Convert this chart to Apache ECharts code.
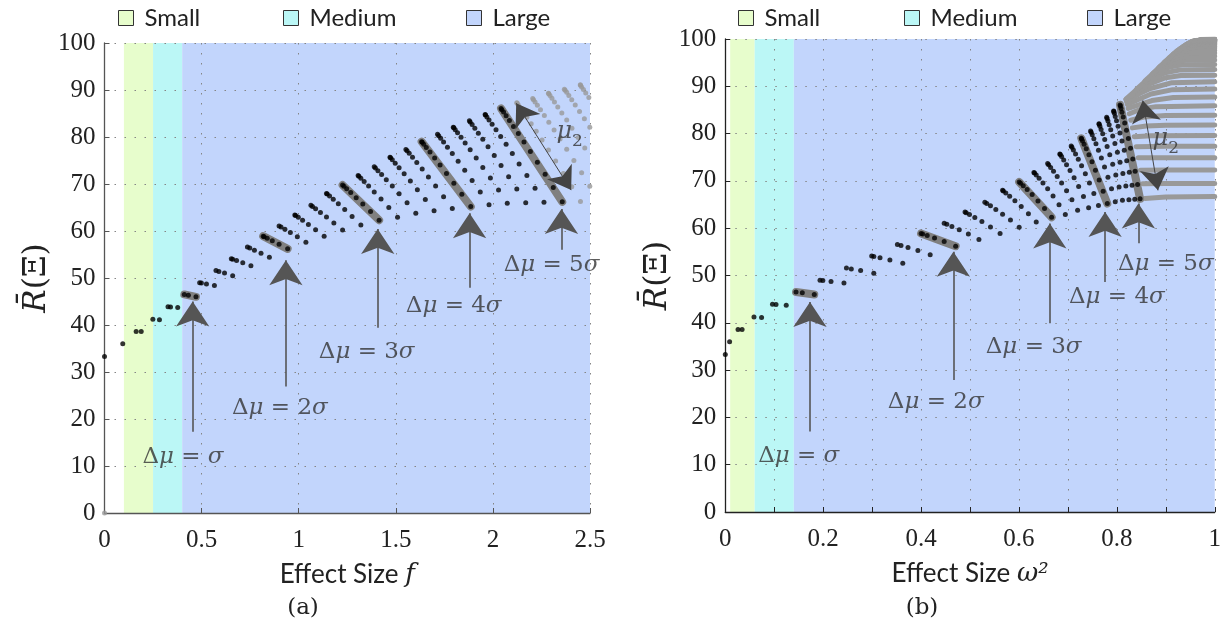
<!DOCTYPE html>
<html><head><meta charset="utf-8">
<script src="https://cdn.jsdelivr.net/npm/echarts@6/dist/echarts.min.js"></script>
<style>html,body{margin:0;padding:0;background:#fff}#c{width:1224px;height:630px}</style>
</head><body><div id="c"></div>
<script>
// ---------- Panel (a): effect size f vs R(Xi) ----------
const aBlack = [
 [0,33.3],[0.094,36.0],[0.189,38.6],[0.163,38.6],[0.283,41.1],[0.249,41.2],
 [0.377,43.7],[0.340,43.85],[0.327,43.9],
 [0.471,46.0],[0.432,46.35],[0.411,46.5],
 [0.566,48.4],[0.525,48.73],[0.499,48.93],[0.490,49.0],
 [0.660,50.5],[0.618,51.04],[0.589,51.4],[0.574,51.58],
 [0.754,52.6],[0.712,53.26],[0.680,53.73],[0.660,54.01],[0.653,54.1],
 [0.849,54.4],[0.806,55.27],[0.772,55.92],[0.748,56.36],[0.736,56.57],
 [0.943,56.2],[0.899,57.17],[0.864,57.93],[0.838,58.47],[0.822,58.79],[0.817,58.9],
 [1.037,57.6],[0.993,58.76],[0.957,59.68],[0.929,60.38],[0.909,60.84],[0.899,61.07],
 [1.131,58.9],[1.087,60.28],[1.050,61.4],[1.020,62.28],[0.998,62.9],[0.984,63.28],[0.980,63.4],
 [1.226,60.2],[1.181,61.71],[1.143,62.96],[1.112,63.96],[1.087,64.72],[1.071,65.22],[1.063,65.47],
 [1.320,61.3],[1.275,63.08],[1.237,64.58],[1.204,65.81],[1.178,66.77],[1.159,67.45],[1.147,67.86],[1.143,68.0],
 [1.414,62.3],[1.370,64.17],[1.330,65.77],[1.296,67.1],[1.268,68.17],[1.247,68.97],[1.233,69.5],[1.226,69.77],
 [1.509,62.9],[1.464,64.98],[1.424,66.79],[1.389,68.32],[1.360,69.58],[1.337,70.55],[1.320,71.24],[1.310,71.66],[1.306,71.8],
 [1.603,63.8],[1.558,65.99],[1.517,67.91],[1.482,69.55],[1.451,70.93],[1.427,72.02],[1.408,72.84],[1.395,73.39],[1.389,73.67],
 [1.697,64.3],[1.652,66.69],[1.611,68.8],[1.575,70.64],[1.543,72.18],[1.517,73.44],[1.497,74.43],[1.482,75.14],[1.473,75.56],[1.470,75.7],
 [1.791,64.8],[1.746,67.31],[1.705,69.55],[1.668,71.5],[1.636,73.18],[1.608,74.57],[1.586,75.69],[1.569,76.53],[1.558,77.09],[1.552,77.36],
 [1.886,65.2],[1.840,67.82],[1.799,70.17],[1.761,72.24],[1.728,74.03],[1.700,75.55],[1.676,76.79],[1.657,77.76],[1.644,78.45],[1.636,78.86],[1.633,79.0],
 [1.980,65.6],[1.935,68.32],[1.893,70.77],[1.855,72.95],[1.821,74.85],[1.791,76.48],[1.766,77.84],[1.746,78.93],[1.731,79.75],[1.721,80.29],[1.715,80.57],
 [2.074,65.9],[2.029,68.71],[1.987,71.26],[1.948,73.53],[1.914,75.54],[1.883,77.28],[1.857,78.75],[1.836,79.96],[1.818,80.89],[1.806,81.56],[1.799,81.97],[1.796,82.1],
 [2.169,66.0],[2.123,68.91],[2.081,71.56],[2.042,73.94],[2.007,76.06],[1.975,77.91],[1.948,79.5],[1.925,80.82],[1.907,81.88],[1.893,82.67],[1.883,83.2],[1.879,83.47],
 [2.263,66.1],[2.217,69.09],[2.175,71.81],[2.135,74.28],[2.100,76.49],[2.068,78.44],[2.040,80.13],[2.016,81.55],[1.996,82.72],[1.980,83.63],[1.969,84.28],[1.962,84.67],[1.960,84.8],
 [2.357,66.2],[2.311,69.26],[2.269,72.06],[2.229,74.61],[2.193,76.9],[2.160,78.94],[2.131,80.72],[2.106,82.25],[2.085,83.52],[2.068,84.54],[2.055,85.3],[2.046,85.81],[2.042,86.07]
];
const aGray = [
 [0,0],
 [2.451,66.3],[2.406,69.41],[2.363,72.26],[2.323,74.87],[2.286,77.24],[2.253,79.34],[2.223,81.21],[2.197,82.83],[2.175,84.19],[2.156,85.31],[2.142,86.18],[2.131,86.8],[2.125,87.18],[2.123,87.3],
 [2.499,69.51],[2.457,72.38],[2.417,75.01],[2.380,77.4],[2.346,79.56],[2.315,81.47],[2.288,83.15],[2.265,84.58],[2.245,85.78],[2.229,86.74],[2.217,87.45],[2.209,87.93],[2.205,88.17],
 [2.473,77.67],[2.439,79.88],[2.407,81.86],[2.380,83.6],[2.355,85.11],[2.334,86.39],[2.317,87.44],[2.304,88.25],[2.294,88.83],[2.288,89.18],[2.286,89.3],
 [2.499,82.06],[2.471,83.86],[2.446,85.44],[2.424,86.79],[2.406,87.92],[2.391,88.82],[2.380,89.5],[2.372,89.95],[2.368,90.17],
 [2.494,88.38],[2.478,89.36],[2.466,90.12],[2.457,90.66],[2.451,91.0],[2.450,91.1]
];
const aBands = [
 [[0.411,46.5],[0.471,46.0]],[[0.817,58.9],[0.943,56.2]],[[1.226,69.77],[1.414,62.3]],
 [[1.633,79.0],[1.886,65.2]],[[2.042,86.07],[2.357,66.2]]
];
const aArrows = [
 [[0.454,17.3],[0.454,45.0]],[[0.934,26.9],[0.934,53.8]],[[1.407,39.4],[1.407,60.4]],
 [[1.880,47.9],[1.880,63.8]],[[2.353,56.0],[2.353,64.7]]
];
const aMu2 = [[2.120,87.2],[2.403,68.7]];
const aLabelPos = [[0.404,11.9],[0.903,22.3],[1.350,34.3],[1.798,44.0],[2.302,52.8]];
const aMu2Pos = [2.395,80.4];

// ---------- Panel (b): effect size omega^2 vs R(Xi) ----------
const bBlack = [
 [0,33.3],[0.0088,36.0],[0.0343,38.6],[0.0260,38.6],[0.0741,41.1],[0.0586,41.2],
 [0.1245,43.7],[0.1036,43.85],[0.0964,43.9],
 [0.1818,46.0],[0.1573,46.35],[0.1445,46.5],
 [0.2424,48.4],[0.2160,48.73],[0.1993,48.93],[0.1935,49.0],
 [0.3034,50.5],[0.2765,51.04],[0.2574,51.4],[0.2475,51.58],
 [0.3626,52.6],[0.3363,53.26],[0.3161,53.73],[0.3034,54.01],[0.2991,54.1],
 [0.4186,54.4],[0.3935,55.27],[0.3733,55.92],[0.3590,56.36],[0.3516,56.57],
 [0.4706,56.2],[0.4472,57.17],[0.4275,57.93],[0.4125,58.47],[0.4032,58.79],[0.4000,58.9],
 [0.5182,57.6],[0.4966,58.76],[0.4780,59.68],[0.4630,60.38],[0.4526,60.84],[0.4472,61.07],
 [0.5614,58.9],[0.5418,60.28],[0.5243,61.4],[0.5098,62.28],[0.4989,62.9],[0.4921,63.28],[0.4898,63.4],
 [0.6004,60.2],[0.5826,61.71],[0.5665,62.96],[0.5527,63.96],[0.5418,64.72],[0.5342,65.22],[0.5303,65.47],
 [0.6353,61.3],[0.6193,63.08],[0.6046,64.58],[0.5917,65.81],[0.5810,66.77],[0.5731,67.45],[0.5681,67.86],[0.5665,68.0],
 [0.6667,62.3],[0.6522,64.17],[0.6388,65.77],[0.6269,67.1],[0.6167,68.17],[0.6087,68.97],[0.6032,69.5],[0.6004,69.77],
 [0.6947,62.9],[0.6818,64.98],[0.6696,66.79],[0.6586,68.32],[0.6490,69.58],[0.6411,70.55],[0.6353,71.24],[0.6318,71.66],[0.6305,71.8],
 [0.7198,63.8],[0.7082,65.99],[0.6972,67.91],[0.6871,69.55],[0.6781,70.93],[0.6706,72.02],[0.6647,72.84],[0.6606,73.39],[0.6586,73.67],
 [0.7423,64.3],[0.7318,66.69],[0.7219,68.8],[0.7126,70.64],[0.7043,72.18],[0.6972,73.44],[0.6914,74.43],[0.6871,75.14],[0.6844,75.56],[0.6835,75.7],
 [0.7624,64.8],[0.7530,67.31],[0.7440,69.55],[0.7356,71.5],[0.7279,73.18],[0.7212,74.57],[0.7156,75.69],[0.7112,76.53],[0.7082,77.09],[0.7067,77.36],
 [0.7805,65.2],[0.7720,67.82],[0.7639,70.17],[0.7562,72.24],[0.7492,74.03],[0.7429,75.55],[0.7375,76.79],[0.7331,77.76],[0.7299,78.45],[0.7279,78.86],[0.7273,79.0],
 [0.7967,65.6],[0.7891,68.32],[0.7818,70.77],[0.7748,72.95],[0.7683,74.85],[0.7624,76.48],[0.7573,77.84],[0.7530,78.93],[0.7497,79.75],[0.7475,80.29],[0.7463,80.57],
 [0.8114,65.9],[0.8045,68.71],[0.7978,71.26],[0.7915,73.53],[0.7855,75.54],[0.7801,77.28],[0.7752,78.75],[0.7711,79.96],[0.7678,80.89],[0.7654,81.56],[0.7639,81.97],[0.7634,82.1],
 [0.8246,66.0],[0.8184,68.91],[0.8123,71.56],[0.8065,73.94],[0.8011,76.06],[0.7960,77.91],[0.7915,79.5],[0.7875,80.82],[0.7843,81.88],[0.7818,82.67],[0.7801,83.2],[0.7792,83.47],
 [0.8366,66.1],[0.8310,69.09],[0.8254,71.81],[0.8201,74.28],[0.8151,76.49],[0.8104,78.44],[0.8062,80.13],[0.8025,81.55],[0.7993,82.72],[0.7967,83.63],[0.7949,84.28],[0.7938,84.67],[0.7934,84.8],
 [0.8475,66.2],[0.8423,69.26],[0.8373,72.06],[0.8325,74.61],[0.8279,76.9],[0.8235,78.94],[0.8196,80.72],[0.8160,82.25],[0.8130,83.52],[0.8104,84.54],[0.8085,85.3],[0.8072,85.81],[0.8065,86.07]
];
// gray streaks (one row per distance of mu2 from mu1), beyond the 5-sigma diagonal
const bRows = [
 [[0.8573,66.3],[0.90,66.6],[1,66.7]],
 [[0.8527,69.41],[0.90,69.43],[1,69.45]],
 [[0.8481,72.26],[0.90,72.28],[1,72.3]],
 [[0.8436,74.87],[0.90,74.9],[1,74.9]],
 [[0.8394,77.24],[0.90,77.3],[1,77.3]],
 [[0.8354,79.34],[0.87,79.55],[1,79.6]],
 [[0.8317,81.21],[0.86,81.6],[0.90,81.75],[1,81.8]],
 [[0.8284,82.83],[0.855,83.5],[0.90,83.85],[1,83.9]],
 [[0.8254,84.19],[0.85,85.2],[0.88,85.7],[1,85.9]],
 [[0.8230,85.31],[0.8715,86.98],[0.9154,87.64],[1,87.73]],
 [[0.8210,86.18],[0.8697,88.36],[0.9141,89.29],[1,89.42]],
 [[0.8196,86.8],[0.8464,88.46],[0.8682,89.53],[0.9129,90.76],[1,90.95]],
 [[0.8187,87.18],[0.8452,89.17],[0.8669,90.5],[0.8996,91.81],[0.9308,92.3],[1,92.33]],
 [[0.8184,87.3],[0.8445,89.64],[0.8660,91.23],[0.8986,92.86],[0.9300,93.47],[1,93.55]],
 [[0.8394,89.3],[0.8614,91.36],[0.8797,92.72],[0.9078,94.07],[0.9354,94.58],[1,94.61]],
 [[0.8571,91.1],[0.8759,92.88],[0.8916,94.03],[0.9159,95.14],[0.9402,95.52],[1,95.55]],
 [[0.8722,92.6],[0.8882,94.15],[0.9018,95.12],[0.9230,96.03],[0.9456,96.33],[1,96.35]],
 [[0.8851,93.9],[0.8989,95.23],[0.9107,96.05],[0.9292,96.79],[0.9494,97.0],[1,97.03]],
 [[0.8963,95.0],[0.9082,96.14],[0.9184,96.83],[0.9348,97.42],[0.9527,97.6],[1,97.61]],
 [[0.9059,95.9],[0.9163,96.89],[0.9253,97.46],[0.9397,97.95],[0.9558,98.08],[1,98.09]],
 [[0.9143,96.7],[0.9234,97.53],[0.9313,97.99],[0.9441,98.38],[1,98.48]],
 [[0.9216,97.3],[0.9297,98.01],[0.9366,98.4],[0.9480,98.72],[1,98.81]],
 [[0.9281,97.8],[0.9352,98.4],[0.9414,98.73],[0.9516,98.99],[1,99.07]],
 [[0.9338,98.2],[0.9401,98.71],[0.9456,99.0],[0.9548,99.22],[1,99.29]],
 [[0.9389,98.6],[0.9445,99.0],[0.9494,99.22],[0.9577,99.4],[1,99.45]],
 [[0.9434,98.9],[0.9484,99.22],[0.9529,99.4],[0.9604,99.55],[1,99.59]],
 [[0.9474,99.1],[0.9528,99.45],[1,99.69]],
 [[0.9511,99.3],[0.9559,99.6],[1,99.77]],
 [[0.9544,99.45],[1,99.83]],
 [[0.9573,99.6],[1,99.87]],
 [[0.9600,99.7],[1,99.9]],
 [[0.9700,99.9],[1,100]]
];
const bBands = [
 [[0.1445,46.5],[0.1818,46.0]],[[0.4000,58.9],[0.4706,56.2]],[[0.6004,69.77],[0.6667,62.3]],
 [[0.7273,79.0],[0.7805,65.2]],[[0.8065,86.07],[0.8475,66.2]]
];
const bArrows = [
 [[0.173,17.0],[0.173,44.4]],[[0.466,27.9],[0.466,55.0]],[[0.663,39.9],[0.663,61.0]],
 [[0.776,48.6],[0.776,63.4]],[[0.844,56.8],[0.844,65.2]]
];
const bMu2 = [[0.853,87.0],[0.884,68.0]];
const bLabelPos = [[0.150,11.8],[0.430,23.2],[0.630,34.9],[0.800,45.4],[0.900,52.4]];
const bMu2Pos = [0.900,78.2];

// shared text
const sigmaMult = ['', '2', '3', '4', '5'];
const sizeClasses = ['Small', 'Medium', 'Large'];
const classColors = ['#e7fdcc', '#bbf7f6', '#c2d5fc'];
const aBounds = [0.1, 0.25, 0.4, 2.5];
const bBounds = [0.01, 0.06, 0.14, 1.0];

// ---------- build ----------
const SERIF = '"DejaVu Serif", serif';
const TICKFONT = '"Liberation Serif", serif';
const chart = echarts.init(document.getElementById('c'), null, {renderer: 'canvas'});

function mathRich() {
  return {
    n: {fontFamily: SERIF, fontSize: 23, color: '#333'},
    i: {fontFamily: SERIF, fontSize: 23, color: '#333', fontStyle: 'italic'},
    m: {fontFamily: SERIF, fontSize: 24, color: '#333', fontStyle: 'italic', lineHeight: 30, verticalAlign: 'top'},
    s: {fontFamily: SERIF, fontSize: 17, color: '#333', lineHeight: 17, verticalAlign: 'bottom'}
  };
}
function dlabel(m) { return '{n|Δ}{i|μ}{n| = ' + m + '}{i|σ}'; }

function axisPair(g, xmax, xint, xfmt, xname, axisColor) {
  const common = {
    gridIndex: g, type: 'value', z: 2,
    axisLine: {show: true, onZero: false, lineStyle: {color: axisColor, width: 1.3}},
    axisTick: {show: true, inside: true, length: 5, lineStyle: {color: axisColor}},
    splitLine: {show: true, lineStyle: {color: '#858585', type: [1.5, 8.5], width: 1}}
  };
  const x = Object.assign({}, common, {
    min: 0, max: xmax, interval: xint,
    axisLabel: {fontFamily: TICKFONT, fontSize: 25, color: '#222', margin: 15, formatter: xfmt},
    name: xname, nameLocation: 'middle', nameGap: 49,
    nameTextStyle: {rich: {
      s: {fontFamily: 'Lato', fontSize: 26, color: '#222'},
      m: {fontFamily: SERIF, fontSize: 26, color: '#222', fontStyle: 'italic'}
    }}
  });
  const y = Object.assign({}, common, {
    min: 0, max: 100, interval: 10,
    axisLabel: {fontFamily: TICKFONT, fontSize: 25, color: '#222', margin: 9},
    name: '{r|R\u0304}{p|(Ξ)}', nameLocation: 'middle', nameGap: 52, nameRotate: 90,
    nameTextStyle: {rich: {
      r: {fontFamily: SERIF, fontSize: 31, color: '#222', fontStyle: 'italic'},
      p: {fontFamily: SERIF, fontSize: 31, color: '#222'}
    }}
  });
  return [x, y];
}

const [ax, ay] = axisPair(0, 2.5, 0.5, null, '{s|Effect Size }{m|f}', '#555');
const [bx, by] = axisPair(1, 1, 0.1, function (v) {
  const k = Math.round(v * 10);
  return k % 2 === 0 ? String(+(v.toFixed(1))) : '';
}, '{s|Effect Size }{m|ω²}', '#222');

const series = [];
function panel(g, bounds, black, gray, bands, arrows, mu2, labelPos, mu2Pos, rows) {
  sizeClasses.forEach(function (name, k) {
    series.push({
      name: name, type: 'line', xAxisIndex: g, yAxisIndex: g, z: 0,
      data: [], color: classColors[k], itemStyle: {color: classColors[k]},
      markArea: {silent: true, z: 0, itemStyle: {color: classColors[k], opacity: 1},
        data: [[{xAxis: bounds[k]}, {xAxis: bounds[k + 1]}]]}
    });
  });
  if (rows) {
    series.push({type: 'lines', coordinateSystem: 'cartesian2d', xAxisIndex: g, yAxisIndex: g,
      polyline: true, z: 3, silent: true,
      lineStyle: {color: '#999999', width: 5, opacity: 1, cap: 'round', join: 'round'},
      data: rows.map(function (r) { return {coords: r}; })});
  }
  series.push({type: 'lines', coordinateSystem: 'cartesian2d', xAxisIndex: g, yAxisIndex: g,
    z: 3, silent: true,
    lineStyle: {color: '#808080', width: 8, opacity: 1, cap: 'round'},
    data: bands.map(function (c) { return {coords: c}; })});
  if (gray) {
    series.push({type: 'scatter', xAxisIndex: g, yAxisIndex: g, z: 4, symbolSize: 5,
      itemStyle: {color: '#999999'}, data: gray, silent: true});
  }
  series.push({type: 'scatter', xAxisIndex: g, yAxisIndex: g, z: 5, symbolSize: 5,
    itemStyle: {color: '#000'}, data: black, silent: true});
  series.push({type: 'lines', coordinateSystem: 'cartesian2d', xAxisIndex: g, yAxisIndex: g,
    z: 6, silent: true, symbol: ['none', 'arrow'], symbolSize: 25,
    lineStyle: {color: '#555', width: 1.6, opacity: 1},
    data: arrows.map(function (c) { return {coords: c}; })});
  series.push({type: 'lines', coordinateSystem: 'cartesian2d', xAxisIndex: g, yAxisIndex: g,
    z: 6, silent: true, symbol: ['arrow', 'arrow'], symbolSize: 22,
    lineStyle: {color: '#444', width: 1, opacity: 1},
    data: [{coords: mu2}]});
  const labs = labelPos.map(function (p, k) {
    return {value: p, label: {formatter: dlabel(sigmaMult[k])}};
  });
  labs.push({value: mu2Pos, label: {formatter: '{m|μ}{s|2}'}});
  series.push({type: 'scatter', xAxisIndex: g, yAxisIndex: g, z: 7, symbolSize: 1, silent: true,
    itemStyle: {color: 'transparent'},
    label: {show: true, position: 'inside', rich: mathRich()},
    data: labs});
}
panel(0, aBounds, aBlack, aGray, aBands, aArrows, aMu2, aLabelPos, aMu2Pos, null);
panel(1, bBounds, bBlack, null, bBands, bArrows, bMu2, bLabelPos, bMu2Pos, bRows);

const legendLefts = [[113, 278, 461], [733, 899, 1082]];
const legends = [];
legendLefts.forEach(function (row) {
  row.forEach(function (lx, k) {
    legends.push({data: [sizeClasses[k]], left: lx, top: 1, icon: 'rect',
      itemWidth: 15, itemHeight: 15, selectedMode: false,
      itemStyle: {borderColor: '#333', borderWidth: 1},
      textStyle: {fontFamily: 'Lato', fontSize: 24, color: '#222', padding: [0, 0, 0, 6]}});
  });
});

chart.setOption({
  animation: false,
  grid: [
    {left: 104.5, top: 43, width: 485.5, height: 470},
    {left: 725.3, top: 39, width: 489.7, height: 473}
  ],
  legend: legends,
  xAxis: [ax, bx],
  yAxis: [ay, by],
  series: series,
  graphic: [
    {type: 'text', x: 303, y: 608, style: {text: '(a)', font: '23px ' + SERIF, fill: '#222', textAlign: 'center', textVerticalAlign: 'middle'}},
    {type: 'text', x: 922, y: 608, style: {text: '(b)', font: '23px ' + SERIF, fill: '#222', textAlign: 'center', textVerticalAlign: 'middle'}}
  ]
});
</script></body></html>
